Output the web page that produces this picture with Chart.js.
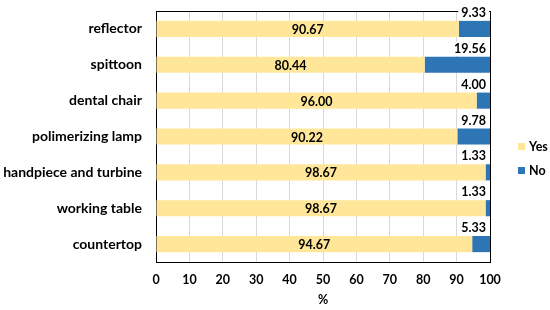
<!DOCTYPE html>
<html>
<head>
<meta charset="utf-8">
<script src="https://cdn.jsdelivr.net/npm/chart.js@4"></script>
<style>
  html, body { margin: 0; padding: 0; background: #fff; }
  #wrap { width: 550px; height: 310px; }
</style>
</head>
<body>
<div id="wrap"><canvas id="chart"></canvas></div>
<script>
const items = ['reflector', 'spittoon', 'dental chair', 'polimerizing lamp', 'handpiece and turbine', 'working table', 'countertop']
const yesVals = [90.67, 80.44, 96.00, 90.22, 98.67, 98.67, 94.67]
const noVals = [9.33, 19.56, 4.00, 9.78, 1.33, 1.33, 5.33]
const xTicks = [0, 10, 20, 30, 40, 50, 60, 70, 80, 90, 100]

const fontFam = 'Lato, "Open Sans", sans-serif'

// black frame round the plot area (top + right sides too)
const frame = {
    id: 'frame',
    beforeDatasetsDraw(chart) {
        const { ctx, chartArea: a } = chart
        ctx.save()
        ctx.strokeStyle = '#000'
        ctx.lineWidth = 1
        ctx.strokeRect(Math.round(a.left) + 0.5, Math.round(a.top) + 0.5, Math.round(a.right - a.left), Math.round(a.bottom - a.top))
        ctx.restore()
    }
}

// value labels: Yes centred in the bar, No above the bar at the right edge
const valueLabels = {
    id: 'valueLabels',
    afterDatasetsDraw(chart) {
        const { ctx, chartArea: a } = chart
        ctx.save()
        ctx.font = 'bold 12.5px ' + fontFam
        ctx.textBaseline = 'middle'
        chart.getDatasetMeta(0).data.forEach((bar, i) => {
            ctx.fillStyle = '#000'
            ctx.textAlign = 'center'
            ctx.fillText(yesVals[i].toFixed(2), (bar.base + bar.x) / 2, bar.y + 1)
        })
        chart.getDatasetMeta(1).data.forEach((bar, i) => {
            const txt = noVals[i].toFixed(2)
            const w = ctx.measureText(txt).width
            const x = a.right - 4
            const y = bar.y - 16
            ctx.fillStyle = '#fff'
            ctx.fillRect(x - w - 3, y - 7, w + 6, 14)
            ctx.fillStyle = '#000'
            ctx.textAlign = 'right'
            ctx.fillText(txt, x, y)
        })
        ctx.restore()
    }
}

// simple legend on the right, built from the datasets
const sideLegend = {
    id: 'sideLegend',
    afterDraw(chart) {
        const { ctx } = chart
        ctx.save()
        ctx.font = 'bold 12.5px ' + fontFam
        ctx.textBaseline = 'middle'
        ctx.textAlign = 'left'
        chart.data.datasets.forEach((ds, i) => {
            const y = 147 + i * 24
            ctx.fillStyle = ds.backgroundColor
            ctx.fillRect(518, y - 4, 7, 7)
            ctx.fillStyle = '#000'
            ctx.fillText(ds.label, 529, y)
        })
        ctx.restore()
    }
}

new Chart(document.getElementById('chart'), {
    type: 'bar',
    data: {
        labels: items,
        datasets: [
            { label: 'Yes', data: yesVals, backgroundColor: '#FFE699', barPercentage: 0.45, categoryPercentage: 1 },
            { label: 'No', data: noVals, backgroundColor: '#2E75B6', barPercentage: 0.45, categoryPercentage: 1 }
        ]
    },
    options: {
        indexAxis: 'y',
        responsive: true,
        maintainAspectRatio: false,
        animation: false,
        layout: { padding: { top: 11, right: 60, left: 2, bottom: 3 } },
        plugins: {
            legend: { display: false },
            tooltip: { enabled: false }
        },
        scales: {
            x: {
                stacked: true,
                min: 0,
                max: 100,
                afterBuildTicks(axis) { axis.ticks = xTicks.map(v => ({ value: v })) },
                afterFit(axis) { axis.height = 45 },
                grid: { color: '#d9d9d9', drawTicks: false },
                border: { color: '#000' },
                ticks: { color: '#000', padding: 10, font: { family: fontFam, size: 12.5, weight: 'bold' } },
                title: { display: true, text: '%', color: '#000', padding: { top: 2, bottom: 0 }, font: { family: fontFam, size: 12.5, weight: 'bold' } }
            },
            y: {
                stacked: true,
                grid: { display: false, drawTicks: false },
                border: { color: '#000' },
                afterFit(axis) {
                    axis.width = 154
                    axis.paddingTop = 0
                    axis.paddingBottom = 0
                },
                ticks: { color: '#000', padding: 14, font: { family: fontFam, size: 14, weight: 'bold' } }
            }
        }
    },
    plugins: [frame, valueLabels, sideLegend]
})
</script>
</body>
</html>
